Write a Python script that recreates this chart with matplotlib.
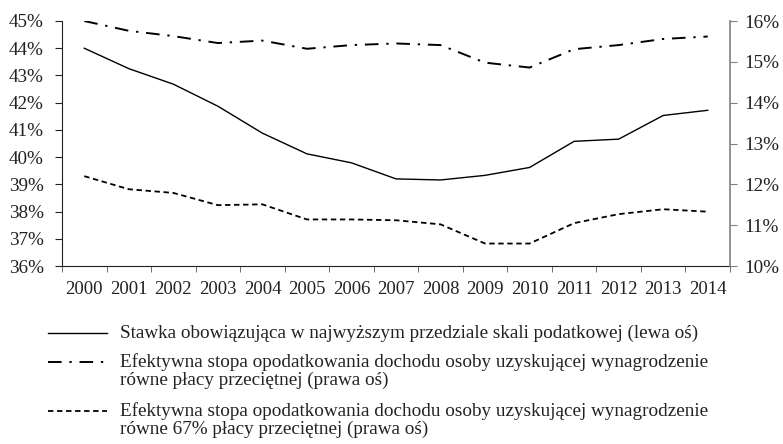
import numpy as np
import matplotlib.pyplot as plt
from matplotlib.lines import Line2D
from matplotlib.ticker import FuncFormatter, FixedLocator

plt.rcParams['font.family'] = ['Liberation Serif', 'DejaVu Serif']

lata = ['2000', '2001', '2002', '2003', '2004', '2005', '2006', '2007',
        '2008', '2009', '2010', '2011', '2012', '2013', '2014']

# stawka w najwyzszym przedziale (lewa os)
stawka_max = [44.0, 43.25, 42.68, 41.87, 40.88, 40.12, 39.79, 39.2,
              39.16, 39.33, 39.62, 40.58, 40.66, 41.53, 41.72]

# efektywna stopa - placa przecietna (prawa os)
stopa_100 = [16.0, 15.76, 15.63, 15.46, 15.52, 15.32, 15.41, 15.45,
             15.41, 14.98, 14.86, 15.31, 15.41, 15.56, 15.62]

# efektywna stopa - 67% placy przecietnej (prawa os)
stopa_67 = [12.2, 11.88, 11.79, 11.49, 11.51, 11.14, 11.14, 11.12,
            11.02, 10.55, 10.55, 11.05, 11.27, 11.39, 11.33]

etykiety = [['Stawka obowiązująca w najwyższym przedziale skali podatkowej (lewa oś)'],
            ['Efektywna stopa opodatkowania dochodu osoby uzyskującej wynagrodzenie',
             'równe płacy przeciętnej (prawa oś)'],
            ['Efektywna stopa opodatkowania dochodu osoby uzyskującej wynagrodzenie',
             'równe 67% płacy przeciętnej (prawa oś)']]

W, H = 783, 444
fig = plt.figure(figsize=(W / 100, H / 100), dpi=100)
ax = fig.add_axes([62 / W, 1 - 266 / H, (730 - 62) / W, (266 - 21) / H])
ax2 = ax.twinx()

x = np.arange(len(lata))
l1, = ax.plot(x, stawka_max, color='black', lw=1.0)
l2, = ax2.plot(x, stopa_100, color='black', lw=1.4, dashes=(7, 4, 1.2, 4))
l3, = ax2.plot(x, stopa_67, color='black', lw=1.3, dashes=(3, 2))

ax.set_xlim(-0.5, len(lata) - 0.5)
ax.set_ylim(36, 45)
ax.set_yticks(range(36, 46))
ax2.set_ylim(10, 16)
ax2.set_yticks(range(10, 17))
pct = FuncFormatter(lambda v, p: f'{v:.0f}%')
ax.yaxis.set_major_formatter(pct)
ax2.yaxis.set_major_formatter(pct)

ax.set_xticks(x)
ax.set_xticklabels(lata)
ax.xaxis.set_minor_locator(FixedLocator(np.arange(-0.5, len(lata), 1.0)))
ax.tick_params(axis='x', which='major', length=0, pad=11, labelsize=13.5, colors='#222222')
ax.tick_params(axis='x', which='minor', length=4, color='#555555')
ax.tick_params(axis='y', length=5, pad=8, labelsize=13.75, colors='#222222')
ax2.tick_params(axis='y', length=5, pad=5, labelsize=13.75, color='#808080', labelcolor='#222222')

for s in ['top', 'right']:
    ax.spines[s].set_visible(False)
for s in ['top', 'left', 'bottom']:
    ax2.spines[s].set_visible(False)
ax.spines['left'].set_color('#222222')
ax.spines['bottom'].set_color('#222222')
ax2.spines['right'].set_color('#808080')
ax2.spines['right'].set_linewidth(1.2)

# legenda pod wykresem (uchwyt przy pierwszej linii opisu)
poz_y = [333, 362, 411]
krok = 18.5
for linia, linie_txt, y0 in zip([l1, l2, l3], etykiety, poz_y):
    h = Line2D([48 / W, 107 / W], [1 - y0 / H, 1 - y0 / H], transform=fig.transFigure,
               color='black', lw=linia.get_linewidth(), linestyle=linia.get_linestyle())
    if linia is not l1:
        h.set_dashes(linia._unscaled_dash_pattern[1])
    fig.add_artist(h)
    for i, t in enumerate(linie_txt):
        fig.text(120 / W, 1 - (y0 + i * krok) / H, t, fontsize=13.75, va='center',
                 ha='left', color='#222222')

fig.savefig('out.png', dpi=100)
